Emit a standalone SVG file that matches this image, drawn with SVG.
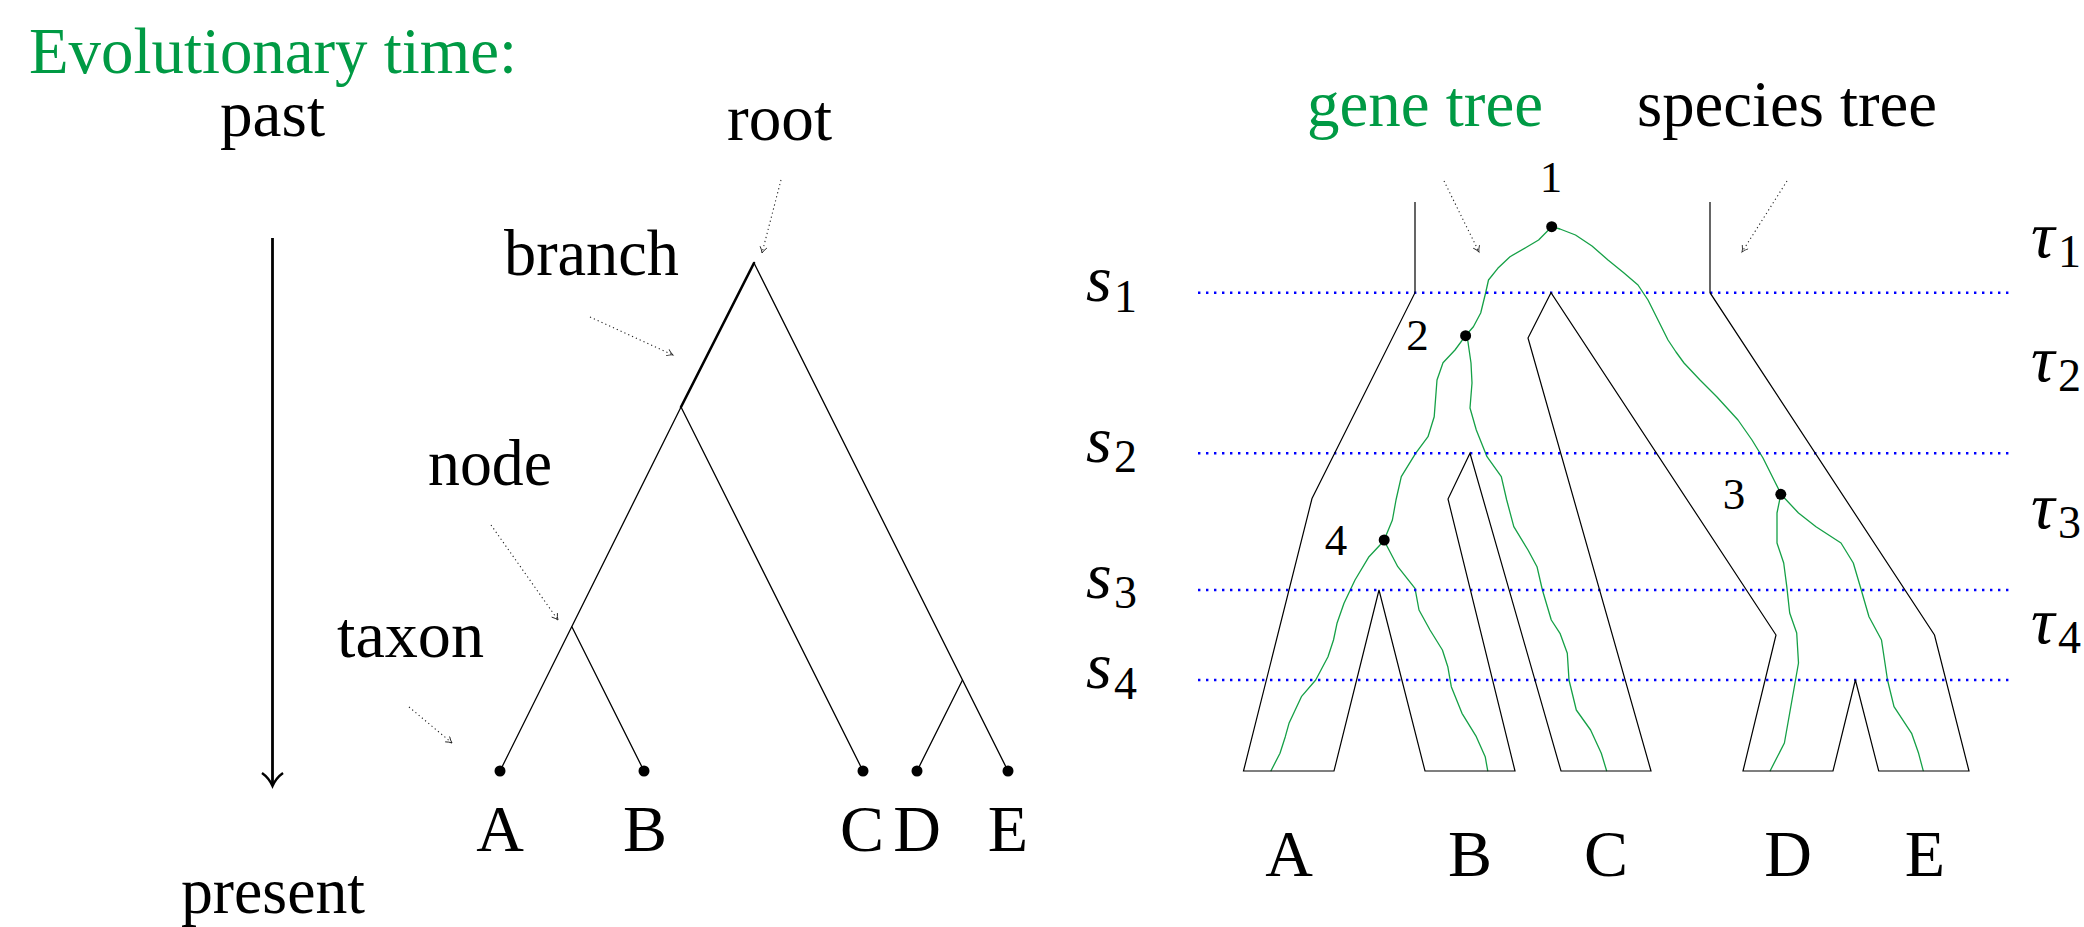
<svg xmlns="http://www.w3.org/2000/svg" width="2084" height="927" viewBox="0 0 2084 927">
<style>
.t{font-size:66px;fill:#000}
.g{fill:#009a44}
.num{font-size:45px}
.it{font-style:italic;font-size:66px}
.sub{font-style:normal;font-size:46px}
.edge{stroke:#000;stroke-width:1.3;fill:none;stroke-linecap:round}
.thick{stroke:#000;stroke-width:2.6;fill:none;stroke-linecap:round}
.dot{stroke:#222;stroke-width:1.1;stroke-dasharray:1.2 3;fill:none;marker-end:url(#ah)}
.sline{stroke:#0000ff;stroke-width:2.6;stroke-dasharray:2.4 5.6;fill:none}
.gene{stroke:#15a046;stroke-width:1.3;fill:none;stroke-linejoin:round;stroke-linecap:round}
.sp{stroke:#000;stroke-width:1.2;fill:none;stroke-linejoin:miter}
</style>
<defs>
<marker id="ah" markerUnits="userSpaceOnUse" markerWidth="12" markerHeight="12" refX="7" refY="4" orient="auto">
<path d="M1,0.5 Q4,3 7,4 Q4,5 1,7.5" stroke="#222" stroke-width="0.9" fill="none"/>
</marker>
</defs>
<g font-family="Liberation Serif, serif">
<g id="title"><text class="t g" x="29" y="73" textLength="488" lengthAdjust="spacingAndGlyphs">Evolutionary time:</text></g>

<g id="time-axis">
<text class="t" x="220" y="136" textLength="105" lengthAdjust="spacingAndGlyphs">past</text>
<line x1="272.5" y1="238" x2="272.5" y2="784" stroke="#000" stroke-width="2.8"/>
<path d="M262,773 Q269,778 272.5,786 Q276,778 283,773" stroke="#000" stroke-width="2.4" fill="none"/>
<text class="t" x="181" y="913" textLength="184" lengthAdjust="spacingAndGlyphs">present</text>
</g>

<g id="connectors">
<g id="left-tree-edges">
<line class="thick" x1="754" y1="263" x2="681" y2="407"/>
<line class="edge" x1="681" y1="407" x2="500" y2="771"/>
<line class="edge" x1="681" y1="407" x2="863" y2="771"/>
<line class="edge" x1="572" y1="627" x2="644" y2="771"/>
<line class="edge" x1="754" y1="263" x2="1008" y2="771"/>
<line class="edge" x1="962.5" y1="680" x2="917" y2="771"/>
</g>
<g id="pointer-arrows">
<line class="dot" x1="781" y1="180" x2="762" y2="253"/>
<line class="dot" x1="590" y1="317" x2="673" y2="355"/>
<line class="dot" x1="491" y1="525" x2="558" y2="620"/>
<line class="dot" x1="409" y1="707" x2="452" y2="743"/>
<line class="dot" x1="1444" y1="181" x2="1479" y2="252"/>
<line class="dot" x1="1787" y1="181" x2="1742" y2="252"/>
</g>
<g id="gene-tree-edges">
<polyline class="gene" points="1551.7,226.7 1538.6,240 1526.4,247.3 1510,256.7 1497.8,268.3 1488.5,280 1485.6,293 1480.7,313 1473.4,326.7 1465.5,335.7"/>
<polyline class="gene" points="1551.7,226.7 1560,229 1575.5,235 1592,246 1608,260 1624,273 1638,285 1648,300 1658,320 1668,340 1676,352 1684,363 1700,380 1717,397 1738,420 1752,440 1763,458 1774,480 1781,494"/>
<polyline class="gene" points="1465.6,335.7 1455,350 1443,362.7 1437,380 1434.2,416.7 1428,436.7 1415.6,453.3 1401.3,476.7 1396,500 1392.4,520 1384.2,540"/>
<polyline class="gene" points="1465.6,335.7 1467.4,338 1471,363 1472,383 1470,408 1476.3,430 1487,456.7 1501.3,476.7 1506.7,500 1513.8,526.7 1528,550 1537,566.7 1542.4,590 1551.3,620 1560,633.3 1567.3,653.3 1569,680 1576.3,710 1590.6,730 1601.3,753.3 1606.6,770.7"/>
<polyline class="gene" points="1384.2,540 1380,545 1369,556.7 1355,580 1344,603.3 1337,623.3 1333.5,640 1328,656.7 1315.7,680 1301.4,696.7 1289,723.3 1285.3,736.7 1280,753.3 1271,770.7"/>
<polyline class="gene" points="1384.2,540 1386.4,545 1397.8,566.7 1415,588.3 1419,610 1430,630 1442.4,650 1447.8,666.7 1451.3,686.7 1462,713.3 1476.3,736.7 1485.2,756.7 1487.7,770.7"/>
<polyline class="gene" points="1780.8,494.3 1777,513 1777,543 1783.7,563 1786.8,586.7 1789.7,613 1796.7,633 1798.5,663 1795,683 1789.7,713 1784.4,743 1770.2,770.7"/>
<polyline class="gene" points="1780.8,494.3 1784.4,498 1798.5,513 1816,526.7 1841,543 1853.3,563 1860.3,586.7 1869,616.7 1881.5,640 1887.5,680 1894,706.7 1911.6,733.3 1918.6,753.3 1923.2,770.7"/>
</g>
</g>

<g id="left-labels">
<text class="t" x="727" y="140" textLength="105" lengthAdjust="spacingAndGlyphs">root</text>
<text class="t" x="504" y="275" textLength="175" lengthAdjust="spacingAndGlyphs">branch</text>
<text class="t" x="428" y="485" textLength="124" lengthAdjust="spacingAndGlyphs">node</text>
<text class="t" x="337" y="657" textLength="147" lengthAdjust="spacingAndGlyphs">taxon</text>
</g>

<g id="left-leaf-A"><circle cx="500" cy="771" r="5.5"/><text class="t" x="500" y="851" text-anchor="middle">A</text></g>
<g id="left-leaf-B"><circle cx="644" cy="771" r="5.5"/><text class="t" x="645" y="851" text-anchor="middle">B</text></g>
<g id="left-leaf-C"><circle cx="863" cy="771" r="5.5"/><text class="t" x="862" y="851" text-anchor="middle">C</text></g>
<g id="left-leaf-D"><circle cx="917" cy="771" r="5.5"/><text class="t" x="917" y="851" text-anchor="middle">D</text></g>
<g id="left-leaf-E"><circle cx="1008" cy="771" r="5.5"/><text class="t" x="1008" y="851" text-anchor="middle">E</text></g>

<g id="right-headers">
<text class="t g" x="1307" y="126" textLength="236" lengthAdjust="spacingAndGlyphs">gene tree</text>
<text class="t" x="1637" y="126" textLength="300" lengthAdjust="spacingAndGlyphs">species tree</text>
</g>

<g id="time-lines">
<line class="sline" x1="1198" y1="292.7" x2="2012" y2="292.7"/>
<line class="sline" x1="1198" y1="453.3" x2="2012" y2="453.3"/>
<line class="sline" x1="1198" y1="590" x2="2012" y2="590"/>
<line class="sline" x1="1198" y1="680" x2="2012" y2="680"/>
<text class="t it" x="1086" y="301">s<tspan class="sub" x="1114" dy="11">1</tspan></text>
<text class="t it" x="1086" y="462">s<tspan class="sub" x="1114" dy="10">2</tspan></text>
<text class="t it" x="1086" y="598">s<tspan class="sub" x="1114" dy="10">3</tspan></text>
<text class="t it" x="1086" y="688">s<tspan class="sub" x="1114" dy="11">4</tspan></text>
<text class="t it" x="2031" y="257">τ<tspan class="sub" x="2058" dy="10">1</tspan></text>
<text class="t it" x="2031" y="381">τ<tspan class="sub" x="2058" dy="10">2</tspan></text>
<text class="t it" x="2031" y="528">τ<tspan class="sub" x="2058" dy="10">3</tspan></text>
<text class="t it" x="2031" y="643">τ<tspan class="sub" x="2058" dy="10">4</tspan></text>
</g>

<g id="species-tree">
<path class="sp" d="M1415,202 L1415,292.7 L1312,498.5 L1243.5,771 L1334,771 L1379,590 L1425,771 L1515,771 L1448,499 L1470,453.3 L1561,771 L1651,771 L1528,338 L1551,292.7 L1776,635 L1743,771 L1833,771 L1855.4,680 L1878.7,771 L1969,771 L1934.5,635 L1710,292.7 L1710,202"/>
</g>

<g id="gene-node-1"><circle cx="1551.7" cy="226.7" r="5.5"/><text class="t num" x="1551" y="192" text-anchor="middle">1</text></g>
<g id="gene-node-2"><circle cx="1465.6" cy="335.7" r="5.5"/><text class="t num" x="1417.5" y="350" text-anchor="middle">2</text></g>
<g id="gene-node-3"><circle cx="1780.8" cy="494.3" r="5.5"/><text class="t num" x="1734" y="509" text-anchor="middle">3</text></g>
<g id="gene-node-4"><circle cx="1384.2" cy="540" r="5.5"/><text class="t num" x="1336" y="555" text-anchor="middle">4</text></g>

<g id="right-leaf-A"><text class="t" x="1289" y="876" text-anchor="middle">A</text></g>
<g id="right-leaf-B"><text class="t" x="1470" y="876" text-anchor="middle">B</text></g>
<g id="right-leaf-C"><text class="t" x="1606" y="876" text-anchor="middle">C</text></g>
<g id="right-leaf-D"><text class="t" x="1788" y="876" text-anchor="middle">D</text></g>
<g id="right-leaf-E"><text class="t" x="1925" y="876" text-anchor="middle">E</text></g>
</g>
</svg>
